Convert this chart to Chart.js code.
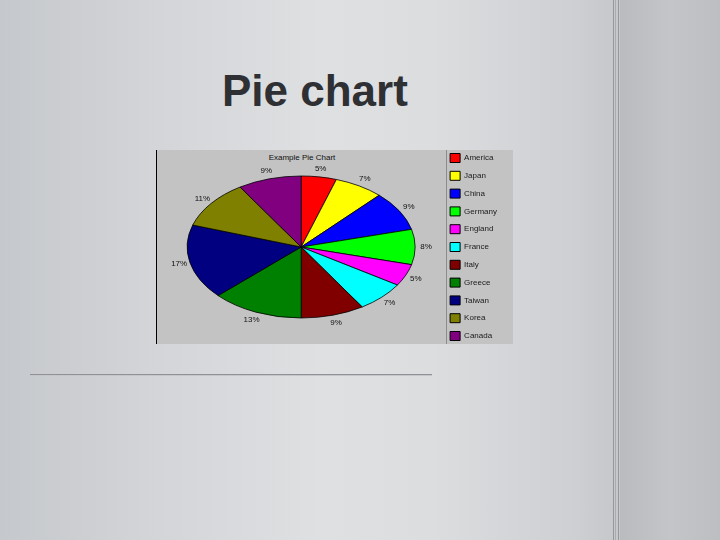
<!DOCTYPE html>
<html>
<head>
<meta charset="utf-8">
<script src="https://cdn.jsdelivr.net/npm/chart.js@4/dist/chart.umd.min.js"></script>
<style>
  html, body { margin: 0; padding: 0; }
  body {
    width: 720px; height: 540px; position: relative; overflow: hidden;
    background: linear-gradient(90deg, #c5c8cc 0%, #d2d4d7 20%, #dfe0e2 45%, #dcdddf 60%, #cdcfd2 80%, #c6c8cb 85%);
    font-family: "Liberation Sans", Arial, sans-serif;
  }
  #rightPanel {
    position: absolute; left: 620px; top: 0; width: 100px; height: 540px;
    background: linear-gradient(90deg, #b9bbbe 0%, #c3c5c8 50%, #bcbec1 100%);
  }
  .vline { position: absolute; top: 0; width: 1px; height: 540px; background: #95979a; }
  #slideTitle {
    position: absolute; left: 222px; top: 66px;
    font: bold 44px "Liberation Sans", Arial, sans-serif; color: #2e3034;
  }
  #rule {
    position: absolute; left: 30px; top: 374px; width: 402px; height: 1px;
    background: #8f9194; border-bottom: 1px solid #c4c6c9;
  }
  #chartBox {
    position: absolute; left: 156px; top: 150px; width: 356px; height: 194px;
    background: #c3c3c3; border-left: 1px solid #000;
  }
  #legendRule { position: absolute; left: 446px; top: 150px; width: 1px; height: 194px; background: #8c8c8c; }
  #chartTitle {
    position: absolute; left: 252px; top: 153px; width: 100px; text-align: center;
    font: 8px "Liberation Sans", Arial, sans-serif; color: #111;
  }
  #wrap { position: absolute; left: 156px; top: 129px; width: 357px; height: 236px; }
</style>
</head>
<body>
<div id="rightPanel"></div>
<div class="vline" style="left:613px"></div>
<div class="vline" style="left:615px; background:#a9abae"></div>
<div class="vline" style="left:618px"></div>
<div id="slideTitle">Pie chart</div>
<div id="chartBox"></div>
<div id="legendRule"></div>
<div id="chartTitle">Example Pie Chart</div>
<div id="rule"></div>
<div id="wrap"><canvas id="pieChart" width="357" height="236"></canvas></div>
<script>
// Data
const countries = ['America', 'Japan', 'China', 'Germany', 'England', 'France',
                   'Italy', 'Greece', 'Taiwan', 'Korea', 'Canada'];
const shares = [5, 7, 9, 8, 5, 7, 9, 13, 17, 11, 9];
const sliceColors = ['#ff0000', '#ffff00', '#0000ff', '#00ff00', '#ff00ff', '#00ffff',
                     '#800000', '#008000', '#000080', '#808000', '#800080'];

// the old chart is drawn as a flat ellipse
const ELLIPSE_RX = 114;
const ELLIPSE_RY = 71;

const ellipsePie = {
    id: 'ellipsePie',
    beforeDatasetsDraw(chart) {
        const arc = chart.getDatasetMeta(0).data[0];
        if (!arc) return;
        const ctx = chart.ctx;
        ctx.save();
        ctx.translate(arc.x, arc.y);
        ctx.scale(ELLIPSE_RX / arc.outerRadius, ELLIPSE_RY / arc.outerRadius);
        ctx.translate(-arc.x, -arc.y);
    },
    afterDatasetsDraw(chart) {
        const ctx = chart.ctx;
        ctx.restore();
        const meta = chart.getDatasetMeta(0);
        const total = shares.reduce((a, b) => a + b, 0);
        ctx.save();
        ctx.font = '8px "Liberation Sans", Arial, sans-serif';
        ctx.fillStyle = '#111';
        ctx.textAlign = 'center';
        ctx.textBaseline = 'middle';
        meta.data.forEach((arc, i) => {
            const mid = (arc.startAngle + arc.endAngle) / 2;
            const x = arc.x + Math.cos(mid) * (ELLIPSE_RX + 11);
            const y = arc.y + Math.sin(mid) * (ELLIPSE_RY + 8);
            ctx.fillText(Math.round(shares[i] / total * 100) + '%', x, y);
        });
        ctx.restore();
    }
};

const pieCtx = document.getElementById('pieChart').getContext('2d');
new Chart(pieCtx, {
    type: 'pie',
    data: {
        labels: countries,
        datasets: [{
            data: shares,
            backgroundColor: sliceColors,
            borderColor: '#000',
            borderWidth: 1
        }]
    },
    options: {
        responsive: false,
        devicePixelRatio: 1,
        animation: false,
        layout: { padding: { left: 5, right: 6 } },
        plugins: {
            legend: {
                position: 'right',
                labels: {
                    boxWidth: 10,
                    boxHeight: 9,
                    padding: 8.8,
                    color: '#1a1a1a',
                    font: { size: 8, family: '"Liberation Sans", Arial, sans-serif' }
                }
            },
            tooltip: { enabled: false }
        }
    },
    plugins: [ellipsePie]
});
</script>
</body>
</html>
